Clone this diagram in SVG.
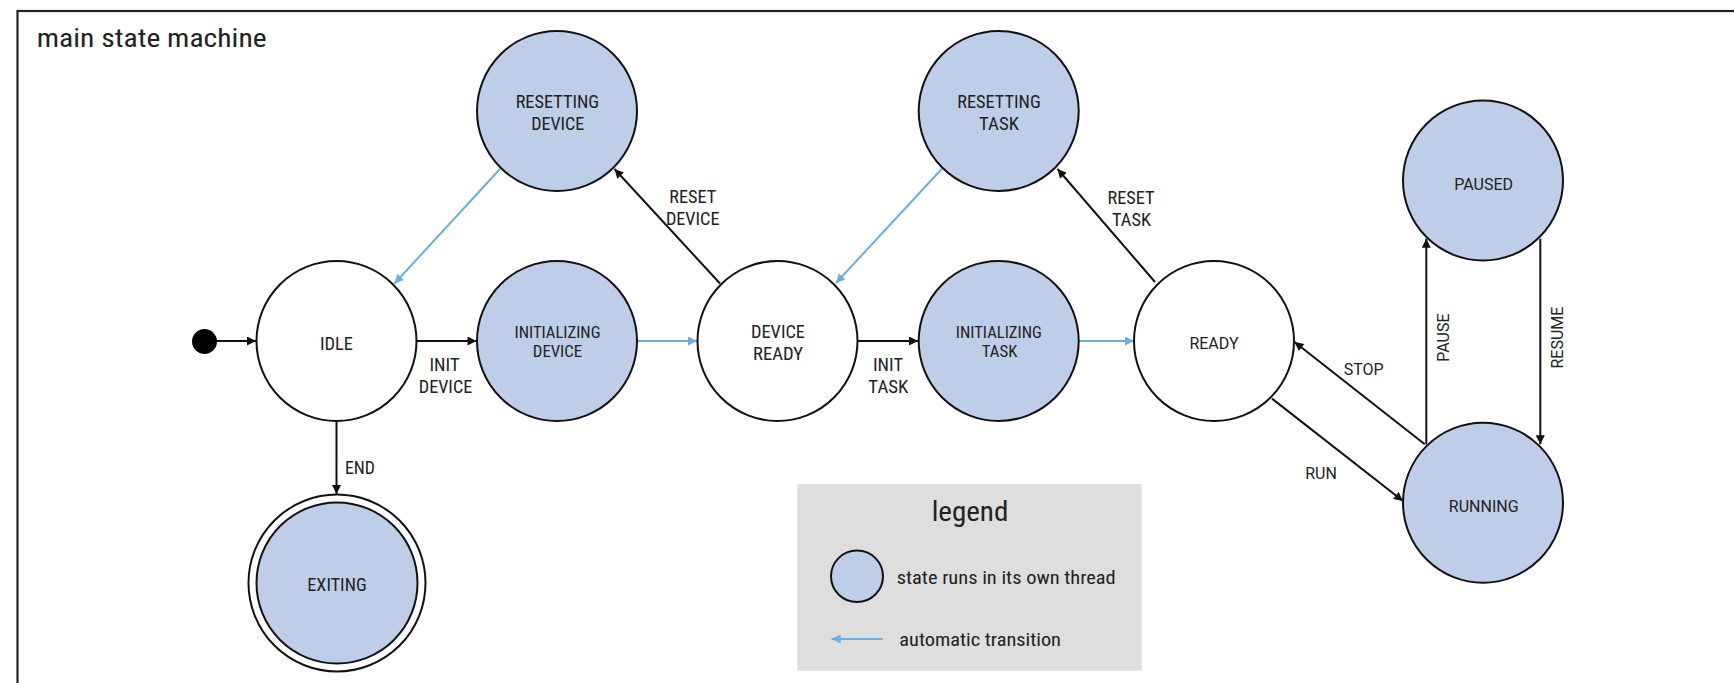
<svg xmlns="http://www.w3.org/2000/svg" width="1734" height="683" viewBox="0 0 1734 683">
<style>
.frame{fill:none;stroke:#222;stroke-width:2.2}
.st{fill:#fff;stroke:#111;stroke-width:2}
.th{fill:#bfcee8;stroke:#111;stroke-width:2}
.c{fill:#222;font-family:"Roboto Condensed",Roboto,"Liberation Sans",sans-serif;font-size:18px;text-anchor:middle}
.ci{fill:#222;font-family:"Roboto Condensed",Roboto,"Liberation Sans",sans-serif;font-size:16.5px;text-anchor:middle}
.r{fill:#222;font-family:Roboto,"Liberation Sans",sans-serif;font-size:16px;text-anchor:middle}
.blk{fill:none;stroke:#111;stroke-width:2}
.blu{fill:none;stroke:#6aaddf;stroke-width:2}
</style>
<defs>
<marker id="ab" viewBox="0 0 10 10" refX="10" refY="5" markerWidth="11" markerHeight="9" markerUnits="userSpaceOnUse" orient="auto"><path d="M0,0 L10,5 L0,10 z" fill="#111"/></marker>
<marker id="au" viewBox="0 0 10 10" refX="10" refY="5" markerWidth="12" markerHeight="9" markerUnits="userSpaceOnUse" orient="auto"><path d="M0,0 L10,5 L0,10 z" fill="#6aaddf"/></marker>
</defs>
<rect class="frame" x="17.5" y="11" width="1760" height="720"/>
<text x="36.7" y="46.7" font-family="'Roboto Condensed',Roboto,'Liberation Sans',sans-serif" font-size="26" fill="#222" textLength="230" lengthAdjust="spacingAndGlyphs">main state machine</text>

<g id="connectors">
<line class="blk" x1="217" y1="341" x2="256" y2="341" marker-end="url(#ab)"/>
<line class="blk" x1="417" y1="341" x2="476.5" y2="341" marker-end="url(#ab)"/>
<line class="blu" x1="637" y1="341" x2="697" y2="341" marker-end="url(#au)"/>
<line class="blk" x1="858" y1="341" x2="918" y2="341" marker-end="url(#ab)"/>
<line class="blu" x1="1079" y1="341" x2="1134" y2="341" marker-end="url(#au)"/>
<line class="blu" x1="500" y1="169" x2="394.5" y2="283.5" marker-end="url(#au)"/>
<line class="blk" x1="720" y1="283.5" x2="614.5" y2="169" marker-end="url(#ab)"/>
<line class="blu" x1="941.7" y1="169" x2="836" y2="283" marker-end="url(#au)"/>
<line class="blk" x1="1155" y1="282" x2="1057.5" y2="169" marker-end="url(#ab)"/>
<line class="blk" x1="336.5" y1="421" x2="336.5" y2="494" marker-end="url(#ab)"/>
<line class="blk" x1="1272" y1="398.6" x2="1403" y2="501" marker-end="url(#ab)"/>
<line class="blk" x1="1424.8" y1="444.3" x2="1294.5" y2="342" marker-end="url(#ab)"/>
<line class="blk" x1="1426.3" y1="444.3" x2="1426.3" y2="238.7" marker-end="url(#ab)"/>
<line class="blk" x1="1540.3" y1="238.7" x2="1540.3" y2="444.3" marker-end="url(#ab)"/>
<text class="c" x="444.5" y="370.7" textLength="30" lengthAdjust="spacingAndGlyphs">INIT</text>
<text class="c" x="445.5" y="392.7" textLength="53.5" lengthAdjust="spacingAndGlyphs">DEVICE</text>
<text class="c" x="888" y="370.7" textLength="30" lengthAdjust="spacingAndGlyphs">INIT</text>
<text class="c" x="888.3" y="392.7" textLength="40" lengthAdjust="spacingAndGlyphs">TASK</text>
<text class="c" x="692.7" y="203" textLength="47" lengthAdjust="spacingAndGlyphs">RESET</text>
<text class="c" x="692.7" y="225" textLength="53.5" lengthAdjust="spacingAndGlyphs">DEVICE</text>
<text class="c" x="1131" y="204" textLength="47" lengthAdjust="spacingAndGlyphs">RESET</text>
<text class="c" x="1131.5" y="226" textLength="39" lengthAdjust="spacingAndGlyphs">TASK</text>
<text class="c" x="360" y="474" textLength="30" lengthAdjust="spacingAndGlyphs">END</text>
<text class="r" x="1363.7" y="374.6">STOP</text>
<text class="r" x="1321" y="479">RUN</text>
<text class="r" transform="translate(1449 337.6) rotate(-90)">PAUSE</text>
<text class="r" transform="translate(1563 337.6) rotate(-90)">RESUME</text>
</g>

<g id="start"><circle cx="204.5" cy="341.5" r="12.5" fill="#000"/></g>

<g id="idle">
<circle class="st" cx="336.5" cy="341" r="80"/>
<text class="c" x="336.5" y="350" textLength="33" lengthAdjust="spacingAndGlyphs">IDLE</text>
</g>
<g id="initializing-device">
<circle class="th" cx="557" cy="341" r="80"/>
<text class="ci" x="557.5" y="338.3" textLength="86" lengthAdjust="spacingAndGlyphs">INITIALIZING</text>
<text class="ci" x="557.5" y="357.3" textLength="49.3" lengthAdjust="spacingAndGlyphs">DEVICE</text>
</g>
<g id="device-ready">
<circle class="st" cx="777.5" cy="341" r="80"/>
<text class="c" x="778" y="338.3" textLength="54" lengthAdjust="spacingAndGlyphs">DEVICE</text>
<text class="c" x="778" y="360" textLength="50" lengthAdjust="spacingAndGlyphs">READY</text>
</g>
<g id="initializing-task">
<circle class="th" cx="998.7" cy="341" r="80"/>
<text class="ci" x="998.8" y="338.3" textLength="86" lengthAdjust="spacingAndGlyphs">INITIALIZING</text>
<text class="ci" x="999.5" y="357.3" textLength="35.7" lengthAdjust="spacingAndGlyphs">TASK</text>
</g>
<g id="ready">
<circle class="st" cx="1214" cy="341" r="80"/>
<text class="r" x="1214" y="349.4">READY</text>
</g>
<g id="resetting-device">
<circle class="th" cx="557" cy="111" r="80"/>
<text class="c" x="557.4" y="108.3" textLength="83.5" lengthAdjust="spacingAndGlyphs">RESETTING</text>
<text class="c" x="557.7" y="130" textLength="53" lengthAdjust="spacingAndGlyphs">DEVICE</text>
</g>
<g id="resetting-task">
<circle class="th" cx="998.7" cy="111" r="80"/>
<text class="c" x="999" y="108.3" textLength="83.5" lengthAdjust="spacingAndGlyphs">RESETTING</text>
<text class="c" x="999" y="130" textLength="40" lengthAdjust="spacingAndGlyphs">TASK</text>
</g>
<g id="paused">
<circle class="th" cx="1483" cy="180.5" r="80"/>
<text class="r" x="1483.6" y="189.5">PAUSED</text>
</g>
<g id="running">
<circle class="th" cx="1483" cy="502.7" r="80"/>
<text class="r" x="1483.7" y="511.8">RUNNING</text>
</g>
<g id="exiting">
<circle cx="337" cy="583" r="88.5" fill="#fff" stroke="#111" stroke-width="2"/>
<circle class="th" cx="337" cy="583" r="80.5"/>
<text class="c" x="337" y="590.7" textLength="59.3" lengthAdjust="spacingAndGlyphs">EXITING</text>
</g>

<g id="legend">
<rect x="797.3" y="484" width="344.4" height="186.7" fill="#dedede"/>
<text x="970" y="520.7" font-family="'Roboto Condensed',Roboto,'Liberation Sans',sans-serif" font-size="28" fill="#222" text-anchor="middle" textLength="76.7" lengthAdjust="spacingAndGlyphs">legend</text>
<ellipse class="th" cx="857" cy="576.3" rx="26" ry="25.7"/>
<text x="896.7" y="584" font-family="'Roboto Condensed',Roboto,'Liberation Sans',sans-serif" font-size="19" fill="#222" textLength="219" lengthAdjust="spacingAndGlyphs">state runs in its own thread</text>
<line class="blu" x1="882.7" y1="639" x2="831.7" y2="639" marker-end="url(#au)"/>
<text x="899.3" y="646.3" font-family="'Roboto Condensed',Roboto,'Liberation Sans',sans-serif" font-size="19" fill="#222" textLength="161.7" lengthAdjust="spacingAndGlyphs">automatic transition</text>
</g>
</svg>
